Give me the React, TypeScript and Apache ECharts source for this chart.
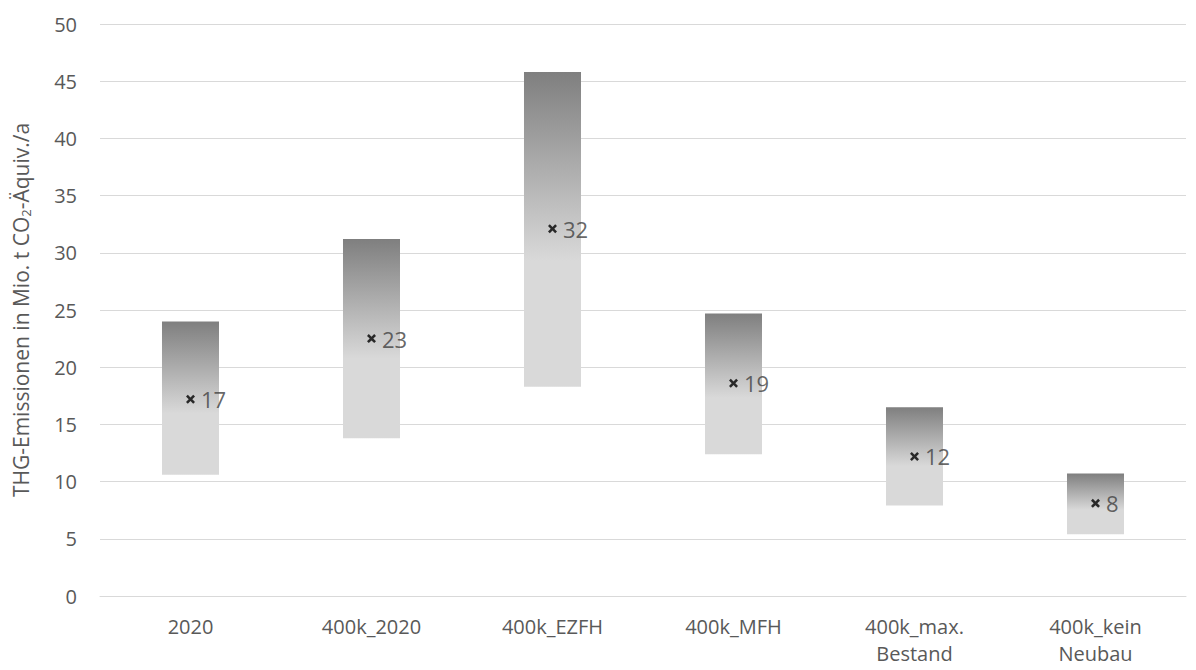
import React, { useEffect, useRef } from "react";
import * as echarts from "echarts";

const categories = ["2020", "400k_2020", "400k_EZFH", "400k_MFH", "400k_max.\nBestand", "400k_kein\nNeubau"];
const rangeLow = [10.6, 13.8, 18.3, 12.4, 7.9, 5.4];
const rangeHigh = [24.0, 31.2, 45.8, 24.7, 16.5, 10.7];
const meanValues = [17.2, 22.5, 32.1, 18.6, 12.2, 8.1];
const meanLabels = ["17", "23", "32", "19", "12", "8"];
const yTicks = { min: 0, max: 50, interval: 5 };

const FONT = "'Open Sans', 'Noto Sans', sans-serif";

export default function App() {
  const ref = useRef<HTMLDivElement>(null);
  useEffect(() => {
    document.body.style.margin = "0";
    const chart = echarts.init(ref.current!, null, { renderer: "svg" });
    const grad = new echarts.graphic.LinearGradient(0, 0, 0, 1, [
      { offset: 0, color: "#7f7f7f" },
      { offset: 0.6, color: "#d9d9d9" },
      { offset: 1, color: "#d9d9d9" },
    ]);
    chart.setOption({
      animation: false,
      backgroundColor: "#ffffff",
      textStyle: { fontFamily: FONT },
      grid: { left: 100, right: 10, top: 24, bottom: 74, outerBoundsMode: "none", containLabel: false },
      xAxis: {
        type: "category",
        data: categories,
        axisLine: { show: true, lineStyle: { color: "#d9d9d9", width: 1 } },
        axisTick: { show: false },
        axisLabel: { color: "#595959", fontSize: 20, fontFamily: FONT, margin: 17, lineHeight: 27 },
      },
      yAxis: {
        type: "value",
        min: yTicks.min,
        max: yTicks.max,
        interval: yTicks.interval,
        axisLine: { show: false },
        axisTick: { show: false },
        splitLine: { lineStyle: { color: "#d9d9d9", width: 1 } },
        axisLabel: { color: "#595959", fontSize: 20, fontFamily: FONT, margin: 23 },
        name: "THG-Emissionen in Mio. t CO{sub|2}-Äquiv./a",
        nameLocation: "middle",
        nameGap: 68,
        nameTextStyle: {
          color: "#595959",
          fontSize: 21,
          fontFamily: FONT,
          rich: {
            sub: { fontSize: 13, color: "#595959", fontFamily: FONT, verticalAlign: "bottom", padding: [9, 0, 0, 0] },
          },
        },
      },
      series: [
        {
          type: "bar",
          stack: "range",
          data: rangeLow,
          itemStyle: { color: "transparent" },
          barWidth: "31.5%",
          silent: true,
        },
        {
          type: "bar",
          stack: "range",
          data: rangeHigh.map((h, i) => +(h - rangeLow[i]).toFixed(2)),
          itemStyle: { color: grad },
          barWidth: "31.5%",
        },
        {
          type: "scatter",
          data: meanValues,
          symbol: "path://M2,0 L5,3 L8,0 L10,2 L7,5 L10,8 L8,10 L5,7 L2,10 L0,8 L3,5 L0,2 Z",
          symbolSize: 9,
          itemStyle: { color: "#000000" },
          label: {
            show: true,
            position: "right",
            distance: 6,
            color: "#404040",
            fontSize: 22,
            fontFamily: FONT,
            formatter: (p: any) => meanLabels[p.dataIndex],
          },
          z: 5,
        },
      ],
    });
    return () => chart.dispose();
  }, []);
  return <div ref={ref} style={{ position: "absolute", left: 0, top: 0, width: 1196, height: 670 }} />;
}
